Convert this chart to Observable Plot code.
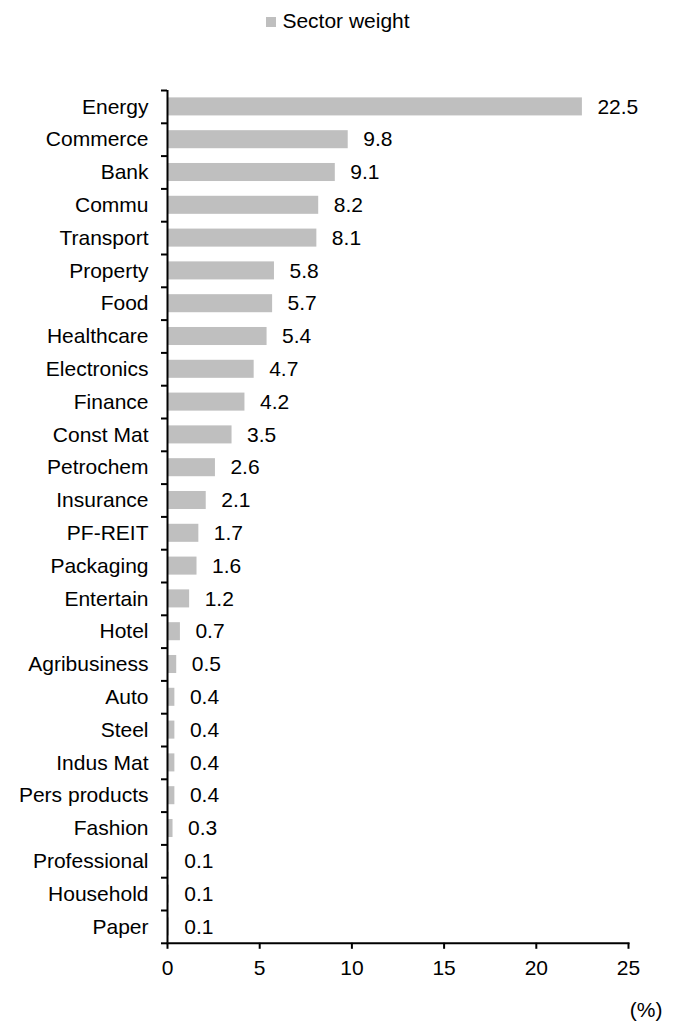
<!DOCTYPE html>
<html>
<head>
<meta charset="utf-8">
<script src="https://cdn.jsdelivr.net/npm/d3@7"></script>
<script src="https://cdn.jsdelivr.net/npm/@observablehq/plot@0.6"></script>
<style>
  body { margin: 0; background: #fff; font-family: "Liberation Sans", Arial, sans-serif; }
  #legend { height: 50px; display: flex; justify-content: center; align-items: flex-start; padding-top: 9px; box-sizing: border-box; font-size: 21px; color: #000; }
  #legend .sw { width: 10px; height: 10px; background: #bfbfbf; margin-top: 8px; margin-right: 6px; }
  #chart svg { display: block; }
</style>
</head>
<body>
<div id="legend"><span class="sw"></span><span>Sector weight</span></div>
<div id="chart"></div>
<script>
const categories = ["Energy","Commerce","Bank","Commu","Transport","Property","Food","Healthcare","Electronics","Finance","Const Mat","Petrochem","Insurance","PF-REIT","Packaging","Entertain","Hotel","Agribusiness","Auto","Steel","Indus Mat","Pers products","Fashion","Professional","Household","Paper"];
const values = [22.5,9.8,9.1,8.2,8.1,5.8,5.7,5.4,4.7,4.2,3.5,2.6,2.1,1.7,1.6,1.2,0.7,0.5,0.4,0.4,0.4,0.4,0.3,0.1,0.1,0.1];
const xTicks = [0,5,10,15,20,25];
const seriesName = "Sector weight";
const unitLabel = ["(%)"];

const data = categories.map((c, i) => ({category: c, value: values[i]}));

const W = 676, H = 977;
const mTop = 40, mBottom = 84.2, mLeft = 167, mRight = 48;
const step = (H - mTop - mBottom) / categories.length;

const chart = Plot.plot({
  width: W,
  height: H,
  marginTop: mTop,
  marginBottom: mBottom,
  marginLeft: mLeft,
  marginRight: mRight,
  style: {fontFamily: "'Liberation Sans', Arial, sans-serif", fontSize: "21px", color: "#000", background: "#fff"},
  x: {domain: [0, 25], axis: null},
  y: {domain: categories, paddingInner: 0.45, paddingOuter: 0.225, round: false, axis: null},
  marks: [
    Plot.barX(data, {y: "category", x: "value", fill: "#bfbfbf"}),
    Plot.text(data, {y: "category", x: "value", text: d => d3.format(".1f")(d.value), textAnchor: "start", dx: 15, fill: "#000"}),
    Plot.ruleX([0], {stroke: "#000", strokeWidth: 2}),
    Plot.frame({anchor: "bottom", stroke: "#000", strokeWidth: 2}),
    Plot.axisY({tickSize: 0, tickPadding: 19, label: null, fill: "#000"}),
    Plot.axisY(categories, {text: null, tickSize: 6, dy: step / 2, stroke: "#000", strokeWidth: 2, label: null}),
    Plot.axisY([categories[0]], {text: null, tickSize: 6, dy: -step / 2, stroke: "#000", strokeWidth: 2, label: null}),
    Plot.axisX({ticks: xTicks, tickSize: 6, tickPadding: 11, label: null, stroke: "#000", strokeWidth: 2, fill: "#000"}),
    Plot.text(unitLabel, {frameAnchor: "bottom-right", textAnchor: "end", dx: 34, dy: 74, fill: "#000"})
  ]
});
document.getElementById("chart").appendChild(chart);
</script>
</body>
</html>
